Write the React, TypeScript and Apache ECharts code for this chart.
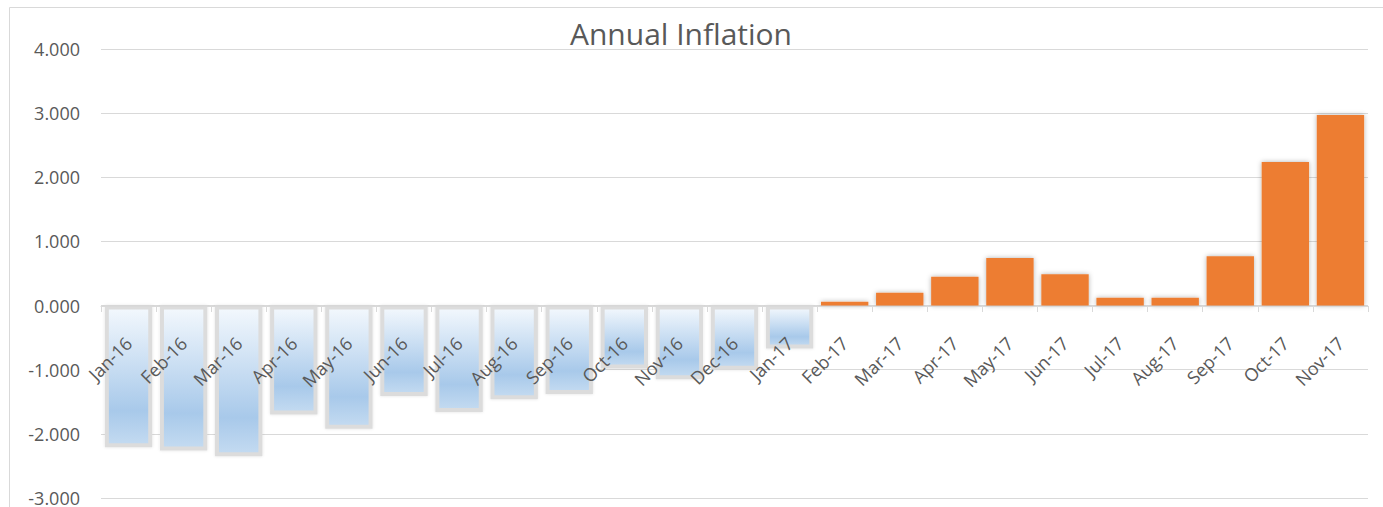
import React, { useEffect, useRef } from "react";
import * as echarts from "echarts";

const categories = [
  "Jan-16", "Feb-16", "Mar-16", "Apr-16", "May-16", "Jun-16", "Jul-16", "Aug-16",
  "Sep-16", "Oct-16", "Nov-16", "Dec-16", "Jan-17", "Feb-17", "Mar-17", "Apr-17",
  "May-17", "Jun-17", "Jul-17", "Aug-17", "Sep-17", "Oct-17", "Nov-17",
];
const inflation = [
  -2.21, -2.26, -2.35, -1.7, -1.92, -1.41, -1.66, -1.46, -1.38, -0.98, -1.15, -1.0,
  -0.67, 0.06, 0.2, 0.45, 0.74, 0.49, 0.12, 0.12, 0.77, 2.24, 2.97,
];
const yTicks = { min: -3, max: 4, interval: 1 };
const titleText = "Annual Inflation";

const App: React.FC = () => {
  const ref = useRef<HTMLDivElement>(null);
  useEffect(() => {
    if (!ref.current) return;
    const chart = echarts.init(ref.current, null, { renderer: "svg" });
    const blueGrad = new echarts.graphic.LinearGradient(0, 0, 0, 1, [
      { offset: 0, color: "#f3f8fd" },
      { offset: 0.75, color: "#a8c9ea" },
      { offset: 1, color: "#c4dbf1" },
    ]);
    const data = inflation.map((v) => ({
      value: v,
      itemStyle:
        v < 0
          ? {
              color: blueGrad,
              borderColor: "#dcdcdc",
              borderWidth: 4,
              shadowColor: "rgba(0,0,0,0.12)",
              shadowBlur: 3,
            }
          : {
              color: "#ED7D31",
              borderWidth: 0,
              shadowColor: "rgba(0,0,0,0.3)",
              shadowBlur: 5,
            },
    }));
    chart.setOption({
      animation: false,
      backgroundColor: "#ffffff",
      textStyle: { fontFamily: "Open Sans" },
      title: {
        text: titleText,
        left: 676,
        top: 13,
        textAlign: "center",
        textStyle: {
          fontFamily: "Open Sans",
          fontSize: 30,
          fontWeight: "normal",
          color: "#595959",
        },
      },
      graphic: [
        {
          type: "rect",
          shape: { x: 9.5, y: 7.5, width: 1400, height: 600 },
          style: { fill: "none", stroke: "#d9d9d9", lineWidth: 1 },
          silent: true,
        },
      ],
      grid: {
        left: 101,
        right: 15,
        top: 49,
        bottom: 9,
        containLabel: false,
        outerBoundsMode: "none",
      },
      xAxis: {
        type: "category",
        data: categories,
        z: 5,
        position: "bottom",
        offset: -192,
        axisLine: { onZero: false, lineStyle: { color: "#d9d9d9", width: 1 } },
        axisTick: { show: true, length: 6, lineStyle: { color: "#d9d9d9" } },
        axisLabel: {
          interval: 0,
          rotate: 45,
          margin: 34,
          fontSize: 18,
          color: "#595959",
          fontFamily: "Open Sans",
        },
      },
      yAxis: {
        type: "value",
        min: yTicks.min,
        max: yTicks.max,
        interval: yTicks.interval,
        axisLine: { show: false },
        axisTick: { show: false },
        splitLine: { lineStyle: { color: "#d9d9d9", width: 1 } },
        axisLabel: {
          formatter: (v: number) => v.toFixed(3),
          fontSize: 18,
          color: "#595959",
          margin: 21,
          fontFamily: "Open Sans",
        },
      },
      series: [
        {
          type: "bar",
          data,
          barCategoryGap: "14%",
        },
      ],
    });
    return () => chart.dispose();
  }, []);
  return (
    <div
      ref={ref}
      style={{ position: "absolute", left: 0, top: 0, width: 1383, height: 507 }}
    />
  );
};

export default App;
